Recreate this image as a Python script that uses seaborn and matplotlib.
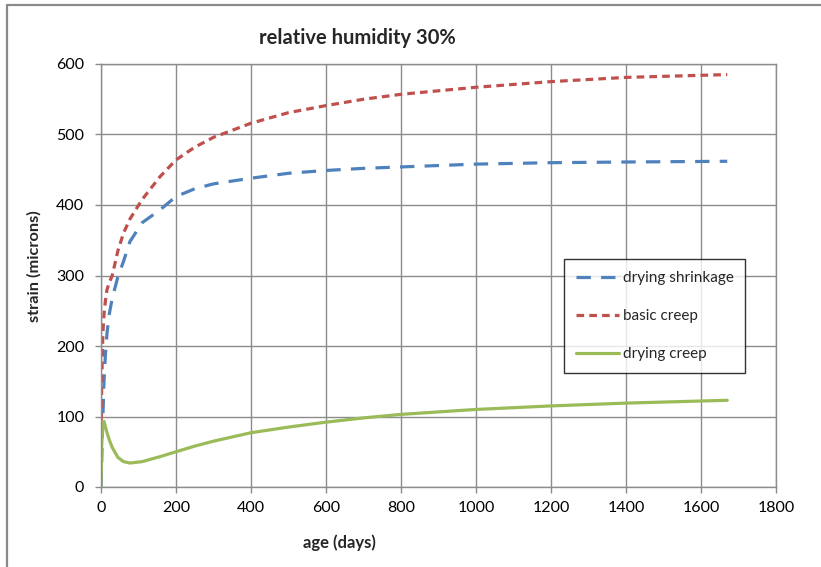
import matplotlib
matplotlib.use("Agg")
import matplotlib.pyplot as plt
from matplotlib.lines import Line2D
import seaborn as sns
import pandas as pd

# ---- data ----
age_days = [0, 2, 5, 8, 12, 16, 22, 30, 45, 60, 77, 110, 157, 200, 250, 300,
            400, 500, 600, 700, 800, 1000, 1200, 1400, 1670]
drying_shrinkage = [0, 40, 99, 150, 190, 218, 245, 268, 298, 320, 348, 375, 393,
                    412, 423, 430, 438, 445, 449, 452, 454, 458, 460, 461, 462]
basic_creep = [40, 150, 218, 245, 265, 280, 290, 300, 335, 360, 380, 408, 440,
               464, 482, 496, 516, 531, 541, 550, 557, 567, 575, 581, 585]
drying_creep = [0, 60, 88, 93, 85, 77, 67, 56, 42, 36, 34, 36, 43,
                50, 58, 65, 77, 85, 92, 98, 103, 110, 115, 119, 123]

series_names = ["drying shrinkage", "basic creep", "drying creep"]
x_ticks = [0, 200, 400, 600, 800, 1000, 1200, 1400, 1600, 1800]
y_ticks = [0, 100, 200, 300, 400, 500, 600]

df = pd.DataFrame({"age": age_days,
                   "drying shrinkage": drying_shrinkage,
                   "basic creep": basic_creep,
                   "drying creep": drying_creep})

sns.set_theme(style="white")
plt.rcParams["font.family"] = ["Lato", "DejaVu Sans"]

fig = plt.figure(figsize=(8.21, 5.67), dpi=100)
ax = fig.add_axes([101 / 821, 1 - 487 / 567, 675 / 821, 423 / 567])

grid_col = "#8c8c8c"
styles = {
    "drying shrinkage": dict(color="#4F81BD", linestyle=(0, (4.5, 3.2))),
    "basic creep": dict(color="#C0504D", linestyle=(0, (2.4, 1.6))),
    "drying creep": dict(color="#9BBB59", linestyle="-"),
}
for name in series_names:
    sns.lineplot(data=df, x="age", y=name, ax=ax, label=name, linewidth=2.3,
                 errorbar=None, sort=False, **styles[name])

ax.set_xlim(0, 1800)
ax.set_ylim(0, 600)
ax.set_xticks(x_ticks)
ax.set_yticks(y_ticks)
ax.set_xticklabels([str(v) for v in x_ticks])
ax.set_yticklabels([str(v) for v in y_ticks])
ax.grid(True, color=grid_col, linewidth=1)
ax.set_axisbelow(True)
for s in ax.spines.values():
    s.set_color(grid_col)
    s.set_linewidth(1)
ax.tick_params(axis="both", direction="out", length=4, width=1, color=grid_col,
               labelsize=11.5, labelcolor="black", pad=6)
ax.tick_params(axis="y", pad=8)
ax.tick_params(bottom=True, left=True)
ax.set_xlabel("")
ax.set_ylabel("")

fig.text(357 / 821, 1 - 38 / 567, "relative humidity 30%", ha="center",
         va="center", fontsize=14.5, fontweight="bold")
fig.text(339 / 821, 1 - 543 / 567, "age (days)", ha="center", va="center",
         fontsize=12, fontweight="bold")
fig.text(34 / 821, 1 - 266 / 567, "strain (microns)", ha="center", va="center",
         fontsize=11.8, fontweight="bold", rotation=90)

leg = ax.legend(loc="upper left", bbox_to_anchor=(564 / 821, 1 - 259 / 567),
                bbox_transform=fig.transFigure, frameon=True, fancybox=False,
                edgecolor="black", fontsize=11, handlelength=2.8,
                labelspacing=1.57, borderpad=0.78, handletextpad=0.25,
                borderaxespad=0)
leg.get_frame().set_linewidth(1)

# outer chart border (top and left visible)
fig.add_artist(Line2D([7 / 821, 7 / 821], [0, 1 - 5 / 567], color="#8a8a8a",
                      linewidth=1.6, transform=fig.transFigure))
fig.add_artist(Line2D([7 / 821, 1], [1 - 5 / 567, 1 - 5 / 567], color="#8a8a8a",
                      linewidth=1.6, transform=fig.transFigure))

fig.savefig("out.png", dpi=100)
